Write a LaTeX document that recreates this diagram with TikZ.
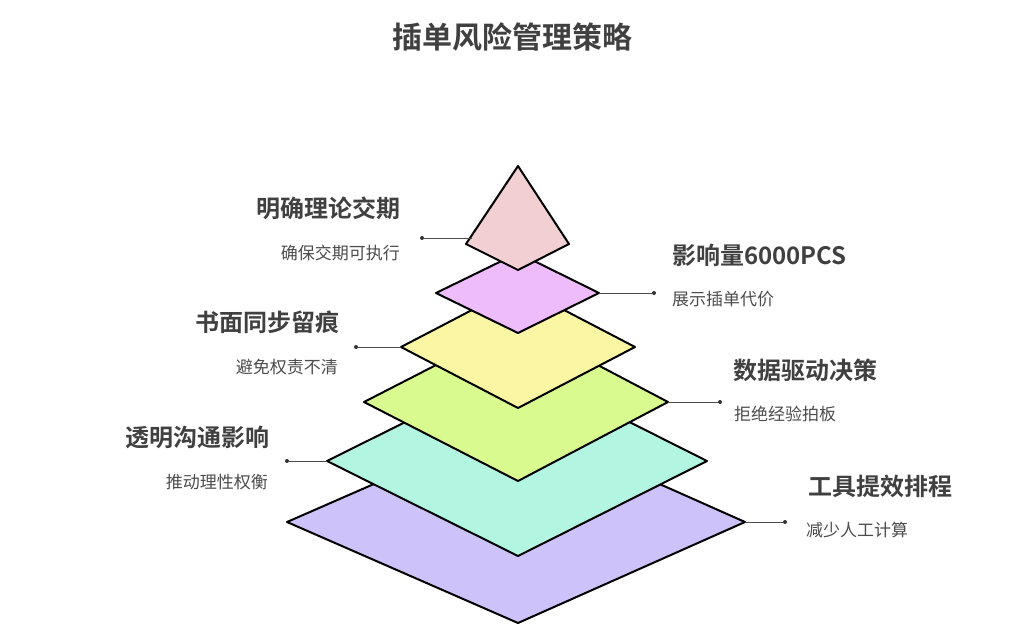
\documentclass[tikz,border=0pt]{standalone}
\usepackage{fontspec}
\setmainfont{Noto Sans CJK SC}
\newfontfamily\cjkb{Noto Sans CJK SC Bold}
\begin{document}
\begin{tikzpicture}[x=1pt,y=-1pt,
  layer/.style={draw=black,line width=2pt,line join=round},
  lead/.style={draw=black!70,line width=0.7pt},
  dotn/.style={circle,fill=black!80,inner sep=0pt,minimum size=4pt},
  ttl/.style={text=black!75,font=\cjkb\fontsize{24}{28}\selectfont,inner sep=0pt},
  sub/.style={text=black!70,font=\fontsize{17}{20}\selectfont,inner sep=0pt}]
\useasboundingbox (0,0) rectangle (1024,632);
\node[text=black!75,font=\cjkb\fontsize{30}{34}\selectfont] (title) at (512,37) {插单风险管理策略};
% layers
\draw[layer,fill=violet!25!white,fill={rgb,255:red,205;green,194;blue,249}] (287,522) -- (518,421) -- (745,522) -- (518,623) -- cycle;
\draw[layer,fill={rgb,255:red,178;green,246;blue,226}] (327,461) -- (518,366) -- (707,461) -- (518,556) -- cycle;
\draw[layer,fill={rgb,255:red,216;green,250;blue,143}] (364,402) -- (518,323) -- (668,402) -- (518,481) -- cycle;
\draw[layer,fill={rgb,255:red,250;green,246;blue,164}] (401,347) -- (518,286) -- (635,347) -- (518,408) -- cycle;
\draw[layer,fill={rgb,255:red,238;green,188;blue,250}] (436,293) -- (518,253) -- (599,293) -- (518,333) -- cycle;
\draw[layer,fill={rgb,255:red,242;green,207;blue,210}] (518,166) -- (569,244) -- (518,270) -- (466,244) -- cycle;
% leaders
\coordinate (e1) at (472,238); \node[dotn] (d1) at (422,238) {};
\coordinate (e2) at (599,293); \node[dotn] (d2) at (654,293) {};
\coordinate (e3) at (401,347); \node[dotn] (d3) at (356,347) {};
\coordinate (e4) at (668,402); \node[dotn] (d4) at (720,402) {};
\coordinate (e5) at (327,461); \node[dotn] (d5) at (287,461) {};
\coordinate (e6) at (745,522); \node[dotn] (d6) at (785,522) {};
\foreach \i in {1,...,6} \draw[lead] (e\i) -- (d\i);
% labels
\node[ttl,anchor=east] (t1) at (401,208) {明确理论交期};
\node[sub,anchor=east] (s1) at (400,253) {确保交期可执行};
\node[ttl,anchor=west] (t2) at (672,255) {影响量6000PCS};
\node[sub,anchor=west] (s2) at (672,299) {展示插单代价};
\node[ttl,anchor=east] (t3) at (340,322) {书面同步留痕};
\node[sub,anchor=east] (s3) at (338,367) {避免权责不清};
\node[ttl,anchor=west] (t4) at (733,370) {数据驱动决策};
\node[sub,anchor=west] (s4) at (734,414) {拒绝经验拍板};
\node[ttl,anchor=east] (t5) at (270,437) {透明沟通影响};
\node[sub,anchor=east] (s5) at (268,482) {推动理性权衡};
\node[ttl,anchor=west] (t6) at (808,486) {工具提效排程};
\node[sub,anchor=west] (s6) at (806,530) {减少人工计算};
\end{tikzpicture}
\end{document}
